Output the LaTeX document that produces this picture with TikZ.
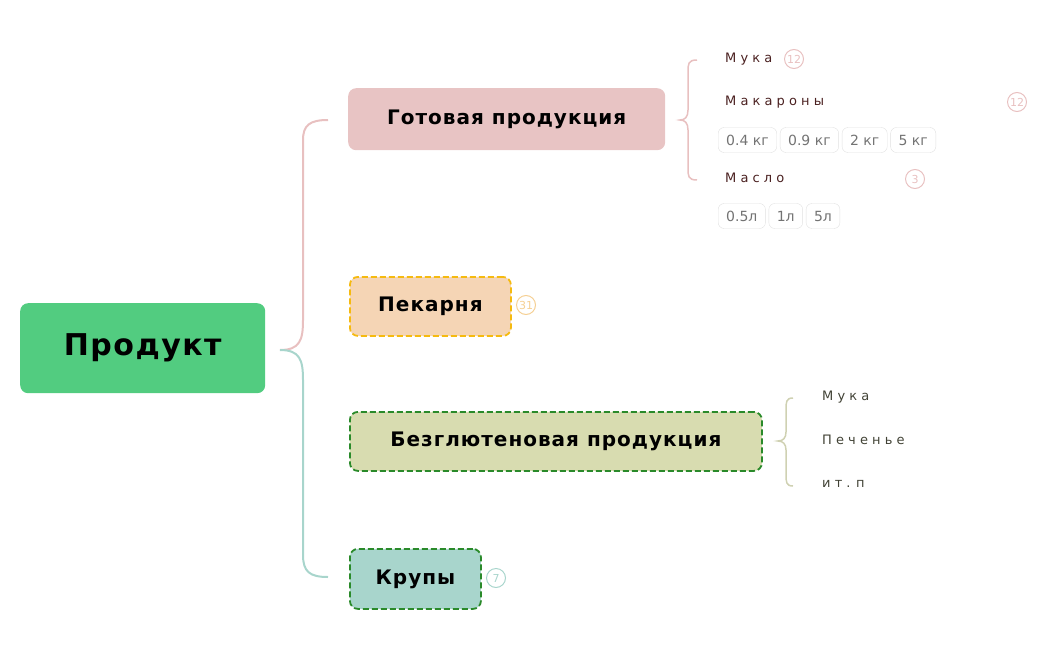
\documentclass[tikz,border=0pt]{standalone}
\usepackage{fontspec}
\setmainfont{DejaVu Sans}
\usetikzlibrary{calc}
\definecolor{pk}{HTML}{E8C4C4}
\definecolor{pkl}{HTML}{E8C0C0}
\definecolor{gr}{HTML}{52CC80}
\definecolor{og}{HTML}{F5D5B5}
\definecolor{ye}{HTML}{F5BA10}
\definecolor{ol}{HTML}{D8DCB0}
\definecolor{dg}{HTML}{2A8A2A}
\definecolor{tl}{HTML}{A8D5CC}
\definecolor{tx}{HTML}{4A2020}
\begin{document}
\begin{tikzpicture}[x=1pt,y=-1pt,
 topic/.style={rounded corners=8pt,inner sep=0pt,anchor=north west,font=\bfseries\fontsize{20}{24}\selectfont\addfontfeatures{LetterSpace=5}},
 dbord/.style={draw=#1,line width=1.8pt,dash pattern=on 6pt off 3pt},
 leaf/.style={anchor=west,font=\fontsize{13}{15}\selectfont,text=tx,inner sep=0pt},
 tag/.style={anchor=west,draw=black!12,rounded corners=6pt,minimum height=25pt,inner xsep=8pt,font=\fontsize{14}{16}\selectfont,text=black!55},
 badge/.style={circle,draw=#1,line width=1pt,inner sep=0pt,minimum size=19pt,text=#1,font=\fontsize{11}{12}\selectfont}]
\useasboundingbox (0,0) rectangle (1048,650);
\node[topic,fill=gr,minimum width=245pt,minimum height=90pt,font=\bfseries\fontsize{30}{34}\selectfont\addfontfeatures{LetterSpace=5}] (root) at (20,303) {Продукт};
\node[topic,fill=pk,minimum width=317pt,minimum height=62pt] (gp) at (348,88) {Готовая продукция};
\node[topic,fill=og,dbord=ye,minimum width=161pt,minimum height=59pt] (pek) at (349,276) {Пекарня};
\node[topic,fill=ol,dbord=dg,minimum width=412pt,minimum height=59pt] (bez) at (349,411) {Безглютеновая продукция};
\node[topic,fill=tl,dbord=dg,minimum width=131pt,minimum height=60pt] (kr) at (349,548) {Крупы};
\coordinate (r0) at (280,350);
\coordinate (e1) at (328,120);
\coordinate (e2) at (328,577);
\draw[pkl,line width=2pt] (r0) .. controls (300,350) and (303,340) .. (303,320) -- (303,140) .. controls (303,125) and (310,120) .. (e1);
\draw[tl,line width=2pt] (r0) .. controls (300,350) and (303,360) .. (303,380) -- (303,555) .. controls (303,572) and (310,577) .. (e2);
% braces
\draw[pkl,line width=1.5pt] (697,60) .. controls (688,60) and (688,64) .. (688,72) -- (688,110) .. controls (688,117) and (685,120) .. (680,120) .. controls (685,120) and (688,123) .. (688,130) -- (688,168) .. controls (688,176) and (688,180) .. (697,180);
\draw[ol!90!black!80,line width=1.5pt] (793,398) .. controls (786,398) and (786,402) .. (786,410) -- (786,432) .. controls (786,438) and (783,441) .. (778,441) .. controls (783,441) and (786,444) .. (786,450) -- (786,474) .. controls (786,482) and (786,486) .. (793,486);
\node[leaf] (l1) at (725,59) {М у к а};
\node[badge=pkl] (b1) at (794,59) {12};
\node[leaf] (l2) at (725,102) {М а к а р о н ы};
\node[badge=pkl] (b2) at (1017,102) {12};
\node[tag] (t1) at (718,140) {0.4 кг};
\node[tag,anchor=west] (t2) at ($(t1.east)+(3,0)$) {0.9 кг};
\node[tag] (t3) at ($(t2.east)+(3,0)$) {2 кг};
\node[tag] (t4) at ($(t3.east)+(3,0)$) {5 кг};
\node[leaf] (l3) at (725,178) {М а с л о};
\node[badge=pkl] (b3) at (915,179) {3};
\node[tag] (s1) at (718,216) {0.5л};
\node[tag] (s2) at ($(s1.east)+(3,0)$) {1л};
\node[tag] (s3) at ($(s2.east)+(3,0)$) {5л};
\node[badge=og!80!ye] (b4) at (526,305) {31};
\node[badge=tl] (b5) at (496,578) {7};
\node[leaf,text=black!70!ol] (g1) at (822,397) {М у к а};
\node[leaf,text=black!70!ol] (g2) at (822,440) {П е ч е н ь е};
\node[leaf,text=black!70!ol] (g3) at (822,484) {и т . п};
\end{tikzpicture}
\end{document}
